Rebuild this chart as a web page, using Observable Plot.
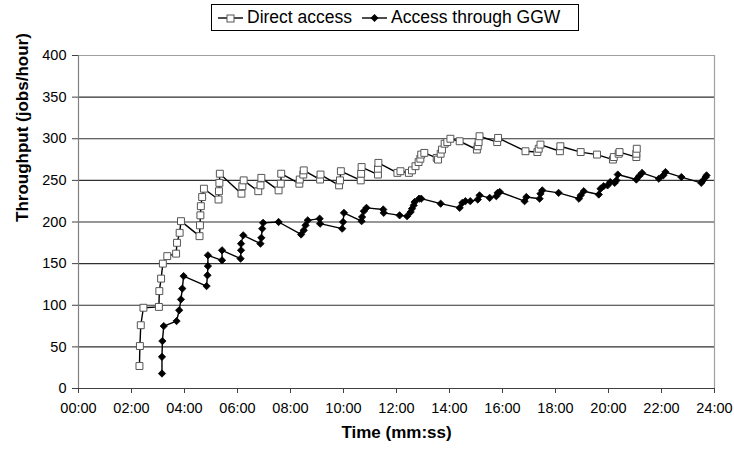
<!DOCTYPE html>
<html>
<head>
<meta charset="utf-8">
<script src="https://cdn.jsdelivr.net/npm/d3@7"></script>
<script src="https://cdn.jsdelivr.net/npm/@observablehq/plot@0.6"></script>
<style>
  html, body { margin: 0; padding: 0; background: #fff; }
  #wrap { position: relative; width: 734px; height: 450px; font-family: "Liberation Sans", Arial, sans-serif; }
  #legend { position: absolute; left: 211px; top: 4px; width: 368px; height: 27px; border: 1px solid #000;
            background: #fff; display: flex; align-items: center; font-size: 17.5px; color: #000; box-sizing: border-box; z-index: 2; }
  #legend .item { display: flex; align-items: center; white-space: nowrap; }
  #legend svg { display: block; }
</style>
</head>
<body>
<div id="wrap">
  <div id="legend"></div>
  <div id="chart"></div>
</div>
<script>
// ---- data (time as mm:ss, throughput in jobs/hour) ----
const seriesNames = ["Direct access", "Access through GGW"];

const directTime = [
  "02:18","02:19","02:21","02:27","03:02","03:03","03:07","03:11","03:21","03:41","03:43","03:49","03:52",
  "04:34","04:35","04:36","04:37","04:40","04:44",
  "05:17","05:18","05:19","05:20",
  "06:09","06:11","06:14","06:47","06:52","06:54",
  "07:33","07:38","07:39","08:20","08:21","08:29","08:30",
  "09:07","09:08","09:50","09:52","09:54",
  "10:39","10:40","10:41","11:18","11:18","11:19",
  "12:02","12:09","12:28","12:35","12:43","12:50","12:54","12:56","13:03",
  "13:31","13:34","13:40","13:43","13:49","13:55","14:02","14:23",
  "15:02","15:04","15:06","15:08","15:48","15:50",
  "16:52","17:19","17:22","17:26","18:10","18:11","18:57","19:34",
  "20:10","20:12","20:23","20:25","21:03","21:03","21:04"
];
const directValue = [
  27,51,76,97,98,117,132,150,159,162,175,187,201,
  183,196,208,219,230,240,
  227,237,247,258,
  234,243,250,237,244,253,
  238,246,258,246,251,257,262,
  251,257,244,250,261,
  250,258,266,257,264,271,
  259,261,259,262,267,272,276,281,283,
  277,275,282,287,294,296,300,297,
  287,291,296,303,296,301,
  285,284,288,293,285,291,284,281,
  275,278,282,284,278,282,288
];

const ggwTime = [
  "03:09","03:09","03:10","03:13","03:42","03:48","03:52","03:55","03:58",
  "04:50","04:52","04:53","04:53","05:25","05:25",
  "06:07","06:08","06:08","06:13","06:52","06:54","06:56","06:58",
  "07:33","08:24","08:30","08:34","08:39","09:06","09:07",
  "09:57","09:59","10:01","10:41","10:42","10:46","10:52","11:30","11:31",
  "12:07","12:24","12:32","12:35","12:39","12:41","12:51","12:56",
  "13:40","14:23","14:29","14:36","14:47","15:04","15:08",
  "15:31","15:46","15:49","15:54","16:50","16:54","17:24","17:26","17:30",
  "18:07","18:53","18:57","19:04","19:38","19:42","19:49","19:58","20:04","20:14","20:18","20:21",
  "21:03","21:09","21:16","21:54","22:04","22:09","22:45","23:30","23:34","23:40","23:42"
];
const ggwValue = [
  18,38,57,75,81,94,107,120,135,
  123,136,147,160,154,166,
  156,166,174,184,174,181,192,199,
  200,185,190,196,202,204,198,
  192,200,211,201,206,213,217,215,211,
  208,207,212,216,220,224,228,228,
  222,217,223,225,225,227,232,
  229,231,235,236,225,230,228,234,238,
  235,228,232,237,233,240,243,244,248,247,250,257,
  251,255,259,252,256,260,254,247,250,254,256
];

const xTickLabels = ["00:00","02:00","04:00","06:00","08:00","10:00","12:00","14:00","16:00","18:00","20:00","22:00","24:00"];
const yTicks = [0, 50, 100, 150, 200, 250, 300, 350, 400];

// ---- build table ----
const toMin = s => { const [m, sec] = s.split(":").map(Number); return m + sec / 60; };
const direct = directTime.map((t, i) => ({t: toMin(t), v: directValue[i]}));
const ggw = ggwTime.map((t, i) => ({t: toMin(t), v: ggwValue[i]}));
const xTicks = xTickLabels.map(toMin).map(m => m * 60); // labels are hh:mm of minutes -> treat "mm" as minutes
const xTickVals = xTickLabels.map(s => Number(s.split(":")[0]));
const fmt = m => xTickLabels[xTickVals.indexOf(Math.round(m))] ?? "";

const font = "'Liberation Sans', Arial, sans-serif";

const chart = Plot.plot({
  width: 734,
  height: 450,
  marginTop: 55,
  marginLeft: 78,
  marginRight: 20,
  marginBottom: 62,
  style: {fontFamily: font, fontSize: "14.5px", color: "#000", background: "transparent"},
  x: {domain: [0, 24], ticks: xTickVals, tickFormat: fmt},
  y: {domain: [0, 400], ticks: yTicks},
  marks: [
    Plot.gridY(yTicks.filter(v => v > 0 && v < 400), {stroke: "#303030", strokeOpacity: 1, strokeWidth: 1.2}),
    Plot.ruleY([400], {stroke: "#a0a0a0", strokeWidth: 1.2}),
    Plot.ruleX([24], {stroke: "#a0a0a0", strokeWidth: 1.2}),
    Plot.ruleX([0], {stroke: "#808080", strokeWidth: 1.2}),
    Plot.ruleY([0], {stroke: "#404040", strokeWidth: 1.2}),
    Plot.axisX({ticks: xTickVals, tickFormat: fmt, tickSize: 5, tickPadding: 9, label: null, stroke: "#404040"}),
    Plot.axisY({ticks: yTicks, tickSize: 6, tickPadding: 6, label: null, stroke: "#404040"}),
    Plot.line(direct, {x: "t", y: "v", stroke: "#000", strokeWidth: 1.4}),
    Plot.line(ggw, {x: "t", y: "v", stroke: "#000", strokeWidth: 1.4}),
    Plot.dot(direct, {x: "t", y: "v", symbol: "square", r: 3.9, fill: "#fff", stroke: "#555", strokeWidth: 1}),
    Plot.dot(ggw, {x: "t", y: "v", symbol: "diamond2", r: 3.3, fill: "#000", stroke: "#000", strokeWidth: 0.8}),
    Plot.text(["Time (mm:ss)"], {text: d => d, frameAnchor: "bottom", dy: 49, fontWeight: "bold", fontSize: 17, fill: "#000"}),
    Plot.text(["Throughput (jobs/hour)"], {text: d => d, frameAnchor: "left", dx: -56, rotate: -90, fontWeight: "bold", fontSize: 17, fill: "#000"})
  ]
});
document.getElementById("chart").appendChild(chart);

// ---- legend ----
const legend = document.getElementById("legend");
const markers = [
  `<svg width="28" height="12"><line x1="2" y1="6" x2="27" y2="6" stroke="#000" stroke-width="1.4"/><rect x="11" y="3" width="7" height="7" fill="#fff" stroke="#555"/></svg>`,
  `<svg width="28" height="12"><line x1="2" y1="6" x2="27" y2="6" stroke="#000" stroke-width="1.4"/><path d="M14.5,2 L18.5,6 L14.5,10 L10.5,6 Z" fill="#000"/></svg>`
];
seriesNames.forEach((name, i) => {
  const item = document.createElement("div");
  item.className = "item";
  item.style.marginLeft = i === 0 ? "4px" : "8px";
  item.innerHTML = markers[i] + `<span style="margin-left:3px">${name}</span>`;
  legend.appendChild(item);
});
</script>
</body>
</html>
